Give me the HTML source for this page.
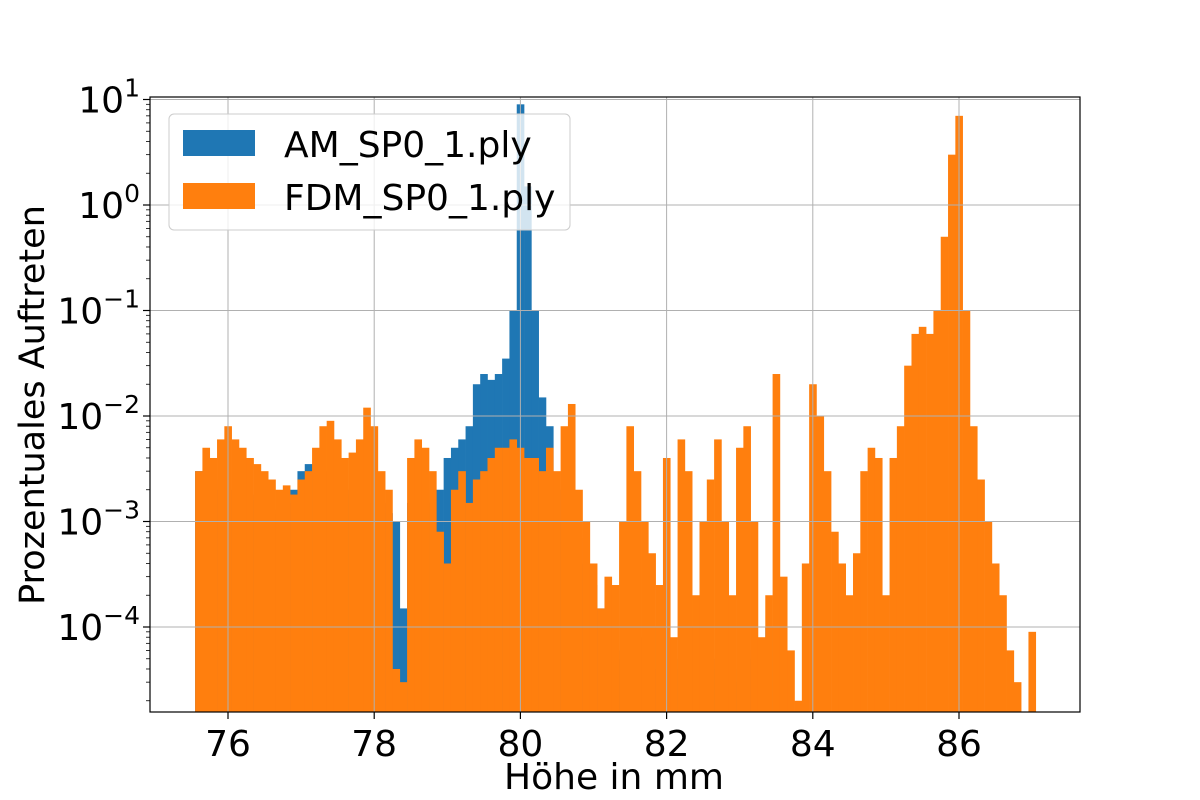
<!DOCTYPE html>
<html><head><meta charset="utf-8"><style>
html,body{margin:0;padding:0;background:#fff;}
svg{display:block;font-family:"DejaVu Sans","Liberation Sans",sans-serif;}
</style></head><body>
<svg id="chart" width="1200" height="800" viewBox="0 0 1200 800" xmlns="http://www.w3.org/2000/svg"></svg>
<script>
const binStart = 75.55;
const binWidth = 0.1;
const amValues = [3e-3,3e-3,2.5e-3,2e-3,2e-3,2e-3,1.5e-3,1.8e-3,1.6e-3,1.5e-3,1.3e-3,1.2e-3,1.5e-3,2e-3,3e-3,3.5e-3,3.5e-3,3e-3,2.5e-3,2e-3,2e-3,1.8e-3,1.8e-3,1.8e-3,1.5e-3,1.5e-3,1.2e-3,1e-3,1.5e-4,1.5e-3,2e-3,2e-3,1.5e-3,2e-3,4e-3,5e-3,6e-3,8e-3,2e-2,2.5e-2,2.2e-2,2.5e-2,3.5e-2,1e-1,9,1.5,1e-1,1.5e-2,8e-3,2e-3,1e-3,1.3e-3,7e-4,4e-4,2.5e-4,1.5e-4,1.2e-4,6e-5,5e-5,1e-4,5e-5,8e-5,4e-5,1e-4,6e-5,5e-5,4e-5,1e-4,8e-5,5e-5,4e-5,5e-5,3e-5,4e-5,3e-5,5e-5,6e-5,3e-5,1e-4];
const fdmValues = [3e-3,5e-3,4e-3,6e-3,8e-3,6e-3,5e-3,4e-3,3.5e-3,3e-3,2.5e-3,2e-3,2.2e-3,1.8e-3,2.5e-3,3e-3,5e-3,8e-3,9e-3,6e-3,4e-3,4.5e-3,6e-3,1.2e-2,8e-3,3e-3,2e-3,4e-5,3e-5,4e-3,6e-3,5e-3,3e-3,8e-4,4e-4,2e-3,3e-3,1.5e-3,2.5e-3,3e-3,4e-3,5e-3,5e-3,6e-3,5e-3,4e-3,4e-3,3e-3,5e-3,3e-3,8e-3,1.3e-2,2e-3,1e-3,4e-4,1.5e-4,3e-4,2.5e-4,1e-3,8e-3,3e-3,1e-3,5e-4,2.5e-4,4e-3,8e-5,6e-3,3e-3,2e-4,1e-3,2.5e-3,6e-3,1e-3,2e-4,5e-3,8e-3,1e-3,8e-5,2e-4,2.5e-2,3e-4,6e-5,2e-5,4e-4,2e-2,1e-2,3e-3,8e-4,4e-4,2e-4,5e-4,3e-3,5e-3,4e-3,2e-4,4e-3,8e-3,3e-2,6e-2,7e-2,6e-2,1e-1,5e-1,3,7,1e-1,8e-3,2.5e-3,1e-3,4e-4,2e-4,6e-5,3e-5,0,9e-5];
const xTicks = [76,78,80,82,84,86];
const yTickExps = [1,0,-1,-2,-3,-4];
const seriesNames = ["AM_SP0_1.ply","FDM_SP0_1.ply"];

const NS="http://www.w3.org/2000/svg";
const svg=document.getElementById('chart');
const L=150,R=1080,T=97,B=712;
const xScale=v=>228+(v-76)*73.1;
const yScale=v=>205-105.5*Math.log10(v);
function mk(tag,attrs,parent){const e=document.createElementNS(NS,tag);for(const k in attrs)e.setAttribute(k,attrs[k]);(parent||svg).appendChild(e);return e;}

const clip=mk('clipPath',{id:'pc'});mk('rect',{x:L,y:T,width:R-L,height:B-T},clip);
const plot=mk('g',{'clip-path':'url(#pc)'});



function drawSeries(vals,color,name){
  const g=mk('g',{},plot);
  
  
  vals.forEach((v,i)=>{
    if(!(v>0))return;
    const x0=xScale(binStart+i*binWidth),x1=xScale(binStart+(i+1)*binWidth);
    const y=yScale(v);
    const r=mk('rect',{x:x0,y:y,width:x1-x0+0.3,height:Math.max(0,B-y),fill:color},g);
    
    
  });
}
drawSeries(amValues,'#1f77b4','am-series');
drawSeries(fdmValues,'#ff7f0e','fdm-series');

xTicks.forEach(t=>{const l=mk('line',{x1:xScale(t),x2:xScale(t),y1:T,y2:B,stroke:'#b0b0b0','stroke-width':1});
});
yTickExps.forEach(e=>{const y=yScale(Math.pow(10,e));const l=mk('line',{x1:L,x2:R,y1:y,y2:y,stroke:'#b0b0b0','stroke-width':1});
});

const fr=mk('rect',{x:L,y:T,width:R-L,height:B-T,fill:'none',stroke:'#000','stroke-width':1.2});


xTicks.forEach(t=>{const x=xScale(t);mk('line',{x1:x,x2:x,y1:B,y2:B+7,stroke:'#000','stroke-width':1.2});
const tx=mk('text',{x:x,y:B+44,'font-size':36,'text-anchor':'middle',fill:'#000'});tx.textContent=t;
});

yTickExps.forEach(e=>{const y=yScale(Math.pow(10,e));mk('line',{x1:L-7,x2:L,y1:y,y2:y,stroke:'#000','stroke-width':1.2});
const tx=mk('text',{x:L-10,y:y+13,'font-size':36,'text-anchor':'end',fill:'#000'});

const base=mk('tspan',{},tx);base.textContent='10';
const sup=mk('tspan',{'font-size':25,dy:-16},tx);sup.textContent=(e<0?'\u2212'+(-e):String(e));});
for(let e=-5;e<=1;e++){for(let m=2;m<=9;m++){const v=m*Math.pow(10,e);const y=yScale(v);if(y<T||y>B)continue;
mk('line',{x1:L-4,x2:L,y1:y,y2:y,stroke:'#000','stroke-width':0.8});}}

const xl=mk('text',{x:614,y:789,'font-size':36,'text-anchor':'middle',fill:'#000'});xl.textContent='Höhe in mm';

const yl=mk('text',{x:0,y:0,'font-size':35,'text-anchor':'middle',fill:'#000',transform:'translate(44,405) rotate(-90)'});yl.textContent='Prozentuales Auftreten';


const lg=mk('g',{});

mk('rect',{x:169,y:114,width:401,height:116,rx:5,fill:'rgba(255,255,255,0.8)',stroke:'#ccc','stroke-width':1},lg);
const cols=['#1f77b4','#ff7f0e'];
seriesNames.forEach((n,i)=>{const y=130+i*53;
const p=mk('rect',{x:183,y:y,width:72,height:26,fill:cols[i]},lg);

const t=mk('text',{x:284,y:y+27,'font-size':36,fill:'#000'},lg);t.textContent=n;
});
</script>
</body></html>
